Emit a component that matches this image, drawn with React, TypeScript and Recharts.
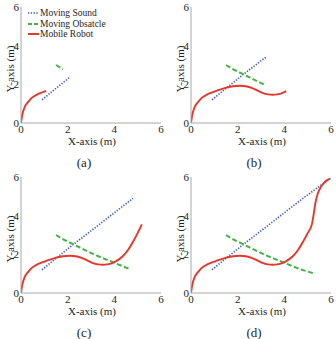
import { LineChart, Line, XAxis, YAxis, Legend, Label } from "recharts";

type Pt = { x: number; y: number };

const TICKS = [0, 2, 4, 6];
const FONT = "'Liberation Serif', 'Times New Roman', serif";
const INK = "#1e1e1e";

// mobile robot trajectory (m)
const robotX = [
  0, 0.05, 0.15, 0.3, 0.46, 0.7, 0.9, 1.08, 1.47, 1.8, 2.1, 2.35, 2.6, 2.85, 3.06, 3.3,
  3.5, 3.7, 3.93, 4.08, 4.36, 4.6, 4.8, 5.0, 5.18, 5.26, 5.33, 5.42, 5.55, 5.7, 5.85, 5.95,
];
const robotY = [
  0, 0.4, 0.8, 1.08, 1.3, 1.48, 1.58, 1.66, 1.82, 1.9, 1.93, 1.9, 1.82, 1.68, 1.56, 1.48,
  1.46, 1.48, 1.56, 1.65, 1.9, 2.25, 2.65, 3.1, 3.55, 4.1, 4.65, 5.1, 5.45, 5.7, 5.85, 5.9,
];

// moving sound source track
const soundX = [0.9, 2.1, 3.2, 4.8, 6.0];
const soundY = [1.2, 2.38, 3.4, 4.9, 5.95];

// moving obstacle track
const obstacleX = [1.5, 1.8, 3.15, 4.65, 5.3];
const obstacleY = [3.0, 2.78, 1.98, 1.24, 1.0];

// number of samples of each track shown per snapshot
const captions = ["(a)", "(b)", "(c)", "(d)"];
const robotShown = [8, 20, 25, 32];
const soundShown = [2, 3, 4, 5];
const obstacleShown = [2, 3, 4, 5];

const BLUE = "#3b55c6";
const GREEN = "#45b347";
const RED = "#e5372a";

const zip = (xs: number[], ys: number[], n: number): Pt[] =>
  xs.slice(0, n).map((x, i) => ({ x, y: ys[i] }));

const legendItems = [
  { name: "Moving Sound", color: BLUE, dash: "1.3 1.5", width: 1.6 },
  { name: "Moving Obsatcle", color: GREEN, dash: "4 2", width: 2 },
  { name: "Mobile Robot", color: RED, dash: undefined, width: 2 },
];

const TrackLegend = () => (
  <div style={{ fontFamily: FONT, fontSize: 9.5, color: INK, lineHeight: "10px" }}>
    {legendItems.map((item) => (
      <div key={item.name} style={{ display: "flex", alignItems: "center", height: 10.5 }}>
        <svg width={11} height={4} style={{ marginRight: 1 }}>
          <line
            x1={0}
            y1={2}
            x2={11}
            y2={2}
            stroke={item.color}
            strokeWidth={item.width}
            strokeDasharray={item.dash}
          />
        </svg>
        <span>{item.name}</span>
      </div>
    ))}
  </div>
);

const YTitle = ({ viewBox }: any) => {
  const cx = 10;
  const cy = viewBox.y + viewBox.height / 2 + 4;
  return (
    <text
      x={cx}
      y={cy}
      transform={`rotate(-90 ${cx} ${cy})`}
      textAnchor="middle"
      dominantBaseline="central"
      style={{ fontFamily: FONT, fontSize: 11 }}
      fill={INK}
    >
      Y-axis (m)
    </text>
  );
};

const XTitle = ({ viewBox }: any) => (
  <text
    x={viewBox.x + viewBox.width / 2 + 1}
    y={viewBox.y + 18}
    textAnchor="middle"
    dominantBaseline="central"
    style={{ fontFamily: FONT, fontSize: 11 }}
    fill={INK}
  >
    X-axis (m)
  </text>
);

const tickStyle = { fill: INK, fontSize: 11, style: { fontFamily: FONT } };

const Snapshot = ({ index }: { index: number }) => (
  <div style={{ position: "relative", width: 166, height: 170 }}>
    <LineChart
      width={166}
      height={150}
      margin={{ top: 7, right: 5, left: 0, bottom: 0 }}
      style={{ fontFamily: FONT }}
    >
      <XAxis
        type="number"
        dataKey="x"
        domain={[0, 6]}
        ticks={TICKS}
        height={27}
        tick={tickStyle}
        tickLine={false}
        tickSize={2}
        tickMargin={0}
        stroke="#a8a8a8"
        allowDataOverflow
      >
        <Label content={XTitle} />
      </XAxis>
      <YAxis
        type="number"
        dataKey="y"
        domain={[0, 6]}
        ticks={TICKS}
        width={21}
        tick={tickStyle}
        tickLine={false}
        tickSize={1}
        tickMargin={1}
        stroke="#a8a8a8"
        allowDataOverflow
      >
        <Label content={YTitle} />
      </YAxis>
      {index === 0 && (
        <Legend
          layout="horizontal"
          verticalAlign="middle"
          align="center"
          content={<TrackLegend />}
          wrapperStyle={{ left: 28, top: 8, width: "auto", height: "auto" }}
        />
      )}
      <Line
        data={zip(soundX, soundY, soundShown[index])}
        dataKey="y"
        type="linear"
        stroke={BLUE}
        strokeWidth={1.6}
        strokeDasharray="1.3 1.5"
        dot={false}
        activeDot={false}
        isAnimationActive={false}
      />
      <Line
        data={zip(obstacleX, obstacleY, obstacleShown[index])}
        dataKey="y"
        type="linear"
        stroke={GREEN}
        strokeWidth={2}
        strokeDasharray="5 2.5"
        dot={false}
        activeDot={false}
        isAnimationActive={false}
      />
      <Line
        data={zip(robotX, robotY, robotShown[index])}
        dataKey="y"
        type="monotone"
        stroke={RED}
        strokeWidth={1.9}
        dot={false}
        activeDot={false}
        isAnimationActive={false}
      />
    </LineChart>
    <div
      style={{
        position: "absolute",
        top: 155,
        left: 0,
        width: 168,
        textAlign: "center",
        fontFamily: FONT,
        fontSize: 13,
        lineHeight: "16px",
        color: INK,
      }}
    >
      {captions[index]}
    </div>
  </div>
);

export default function App() {
  const cells = [
    { left: 0, top: 0 },
    { left: 170, top: 0 },
    { left: 0, top: 170 },
    { left: 170, top: 170 },
  ];
  return (
    <div style={{ position: "absolute", left: 0, top: 0, width: 336, height: 339, background: "#fff" }}>
      {cells.map((c, i) => (
        <div key={captions[i]} style={{ position: "absolute", left: c.left, top: c.top }}>
          <Snapshot index={i} />
        </div>
      ))}
    </div>
  );
}
